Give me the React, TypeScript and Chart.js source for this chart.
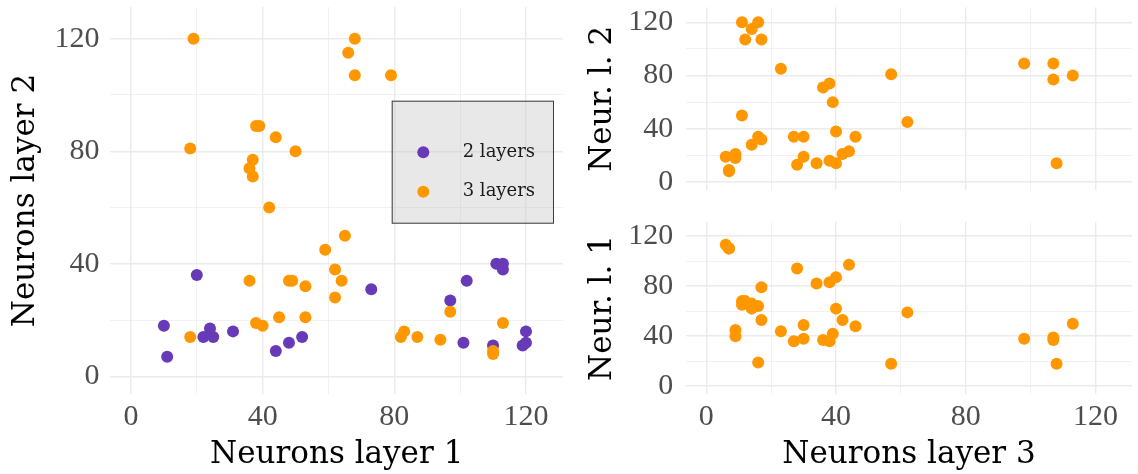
import React, { useEffect, useRef } from "react";
import { Chart, registerables } from "chart.js";

Chart.register(...registerables);

// ---- data ----
// 2-layer networks: neurons in layer 1 and layer 2
const twoLayer1 = [10, 11, 20, 24, 22, 25, 31, 44, 48, 52, 73, 97, 102, 101, 111, 113, 113, 110, 120, 120, 119];
const twoLayer2 = [18, 7, 36, 17, 14, 14, 16, 9, 12, 14, 31, 27, 34, 12, 40, 40, 38, 11, 16, 12, 11];

// 3-layer networks: neurons in layer 1, 2 and 3
const threeLayer1 = [113, 110, 110, 45, 40, 65, 68, 68, 66, 62, 19, 64, 79, 53, 44, 36, 94, 49, 38, 82, 37, 83, 36, 42, 62, 87, 53, 97, 48, 18, 59, 38, 39, 37, 18, 50];
const threeLayer2 = [19, 9, 8, 21, 18, 50, 120, 107, 115, 28, 120, 34, 107, 32, 85, 34, 13, 34, 19, 14, 71, 16, 74, 60, 38, 14, 21, 23, 34, 81, 45, 89, 89, 77, 14, 80];
const threeLayer3 = [6, 7, 7, 9, 9, 11, 11, 12, 14, 14, 16, 16, 17, 17, 23, 27, 28, 30, 30, 34, 36, 38, 38, 39, 40, 40, 42, 44, 46, 57, 62, 98, 107, 107, 108, 113];

const seriesNames = ["2 layers", "3 layers"];
const seriesColors = ["#673AB7", "#FF9800"];

const majorTicks = [0, 40, 80, 120];
const minorTicks = [20, 60, 100];
const axisMin = -6.25;
const axisMax = 131.25;

const titleLeftX = "Neurons layer 1";
const titleLeftY = "Neurons layer 2";
const titleTopRightY = "Neur. l. 2";
const titleBottomRightY = "Neur. l. 1";
const titleRightX = "Neurons layer 3";

// ---- styling ----
const TITLE_FONT = "'DejaVu Serif', serif";
const TICK_FONT = "'Liberation Serif', serif";
const TICK_COLOR = "#4D4D4D";
const GRID_COLOR = "#EBEBEB";

function pts(xs: number[], ys: number[]) {
  return xs.map((x, i) => ({ x, y: ys[i] }));
}

type AxisOpts = {
  horizontal: boolean;
  size: number;
  showLabels: boolean;
  tickPad: number;
  title?: string;
  titlePad?: number;
};

function makeScale(o: AxisOpts): any {
  const allTicks = [...majorTicks, ...minorTicks].sort((a, b) => a - b);
  return {
    type: "linear",
    min: axisMin,
    max: axisMax,
    afterBuildTicks: (scale: any) => {
      scale.ticks = allTicks.map((v) => ({ value: v }));
    },
    afterFit: (scale: any) => {
      if (o.horizontal) scale.height = o.size;
      else scale.width = o.size;
      scale.paddingTop = 0;
      scale.paddingBottom = 0;
      scale.paddingLeft = 0;
      scale.paddingRight = 0;
    },
    border: { display: false },
    grid: {
      color: GRID_COLOR,
      drawTicks: false,
      lineWidth: (ctx: any) =>
        ctx.tick && majorTicks.includes(ctx.tick.value) ? 1.42 : 0.71,
    },
    ticks: {
      display: o.showLabels,
      autoSkip: false,
      maxRotation: 0,
      minRotation: 0,
      padding: o.tickPad,
      color: TICK_COLOR,
      font: { family: TICK_FONT, size: 30, lineHeight: 1 },
      callback: (v: any) => (majorTicks.includes(Number(v)) ? String(v) : ""),
    },
    title: o.title
      ? {
          display: true,
          text: o.title,
          color: "#000000",
          font: { family: TITLE_FONT, size: 31, lineHeight: 1 },
          padding: o.horizontal
            ? { top: 0, bottom: o.titlePad ?? 0 }
            : { top: o.titlePad ?? 0, bottom: 0 },
        }
      : { display: false },
  };
}

const insetLegend = {
  id: "insetLegend",
  afterDatasetsDraw(chart: any) {
    const { ctx, chartArea } = chart;
    const bx = chartArea.left + 281.3;
    const by = chartArea.top + 93.7;
    const bw = 162.3;
    const bh = 123;
    ctx.save();
    ctx.fillStyle = "rgba(190,190,190,0.35)";
    ctx.fillRect(bx, by, bw, bh);
    ctx.strokeStyle = "#3a3a3a";
    ctx.lineWidth = 1;
    ctx.strokeRect(bx + 0.5, by + 0.5, bw - 1, bh - 1);
    seriesNames.forEach((name, i) => {
      const cy = by + 51.6 + i * 39.4;
      ctx.beginPath();
      ctx.fillStyle = seriesColors[i];
      ctx.arc(bx + 31.6, cy, 6, 0, Math.PI * 2);
      ctx.fill();
      ctx.fillStyle = "#1a1a1a";
      ctx.font = `18px ${TITLE_FONT}`;
      ctx.textAlign = "left";
      ctx.textBaseline = "middle";
      ctx.fillText(name, bx + 71, cy);
    });
    ctx.restore();
  },
};

function baseOptions(padding: any, xScale: any, yScale: any): any {
  return {
    responsive: false,
    animation: false,
    events: [],
    layout: { padding },
    plugins: { legend: { display: false }, tooltip: { enabled: false } },
    scales: { x: xScale, y: yScale },
  };
}

function pointDataset(data: any[], color: string, order: number) {
  return {
    data,
    backgroundColor: color,
    borderWidth: 0,
    pointRadius: 6,
    pointHoverRadius: 6,
    order,
  };
}

export default function App() {
  const leftRef = useRef<HTMLCanvasElement>(null);
  const topRightRef = useRef<HTMLCanvasElement>(null);
  const bottomRightRef = useRef<HTMLCanvasElement>(null);

  useEffect(() => {
    const charts: Chart[] = [];

    charts.push(
      new Chart(leftRef.current as HTMLCanvasElement, {
        type: "scatter",
        data: {
          datasets: [
            pointDataset(pts(twoLayer1, twoLayer2), seriesColors[0], 1),
            pointDataset(pts(threeLayer1, threeLayer2), seriesColors[1], 0),
          ],
        },
        options: baseOptions(
          { top: 7, right: 7, bottom: 0, left: 0 },
          makeScale({ horizontal: true, size: 80, showLabels: true, tickPad: 8.5, title: titleLeftX, titlePad: 4 }),
          makeScale({ horizontal: false, size: 110.4, showLabels: true, tickPad: 11, title: titleLeftY, titlePad: 10.5 })
        ),
        plugins: [insetLegend],
      } as any)
    );

    charts.push(
      new Chart(topRightRef.current as HTMLCanvasElement, {
        type: "scatter",
        data: {
          datasets: [pointDataset(pts(threeLayer3, threeLayer2), seriesColors[1], 0)],
        },
        options: baseOptions(
          { top: 7.3, right: 0, bottom: 0, left: 0 },
          makeScale({ horizontal: true, size: 9.7, showLabels: false, tickPad: 0 }),
          makeScale({ horizontal: false, size: 116, showLabels: true, tickPad: 12.7, title: titleTopRightY, titlePad: 17.8 })
        ),
      } as any)
    );

    charts.push(
      new Chart(bottomRightRef.current as HTMLCanvasElement, {
        type: "scatter",
        data: {
          datasets: [pointDataset(pts(threeLayer3, threeLayer1), seriesColors[1], 0)],
        },
        options: baseOptions(
          { top: 17, right: 0, bottom: 0, left: 0 },
          makeScale({ horizontal: true, size: 80, showLabels: true, tickPad: 8.5, title: titleRightX, titlePad: 4 }),
          makeScale({ horizontal: false, size: 116, showLabels: true, tickPad: 12.7, title: titleBottomRightY, titlePad: 17.8 })
        ),
      } as any)
    );

    return () => charts.forEach((c) => c.destroy());
  }, []);

  return (
    <div style={{ position: "absolute", left: 0, top: 0, width: 1138, height: 474, background: "#ffffff" }}>
      <canvas ref={leftRef} width={570} height={474} style={{ position: "absolute", left: 0, top: 0 }} />
      <canvas ref={topRightRef} width={568} height={200} style={{ position: "absolute", left: 570, top: 0 }} />
      <canvas ref={bottomRightRef} width={568} height={269} style={{ position: "absolute", left: 570, top: 205 }} />
    </div>
  );
}
